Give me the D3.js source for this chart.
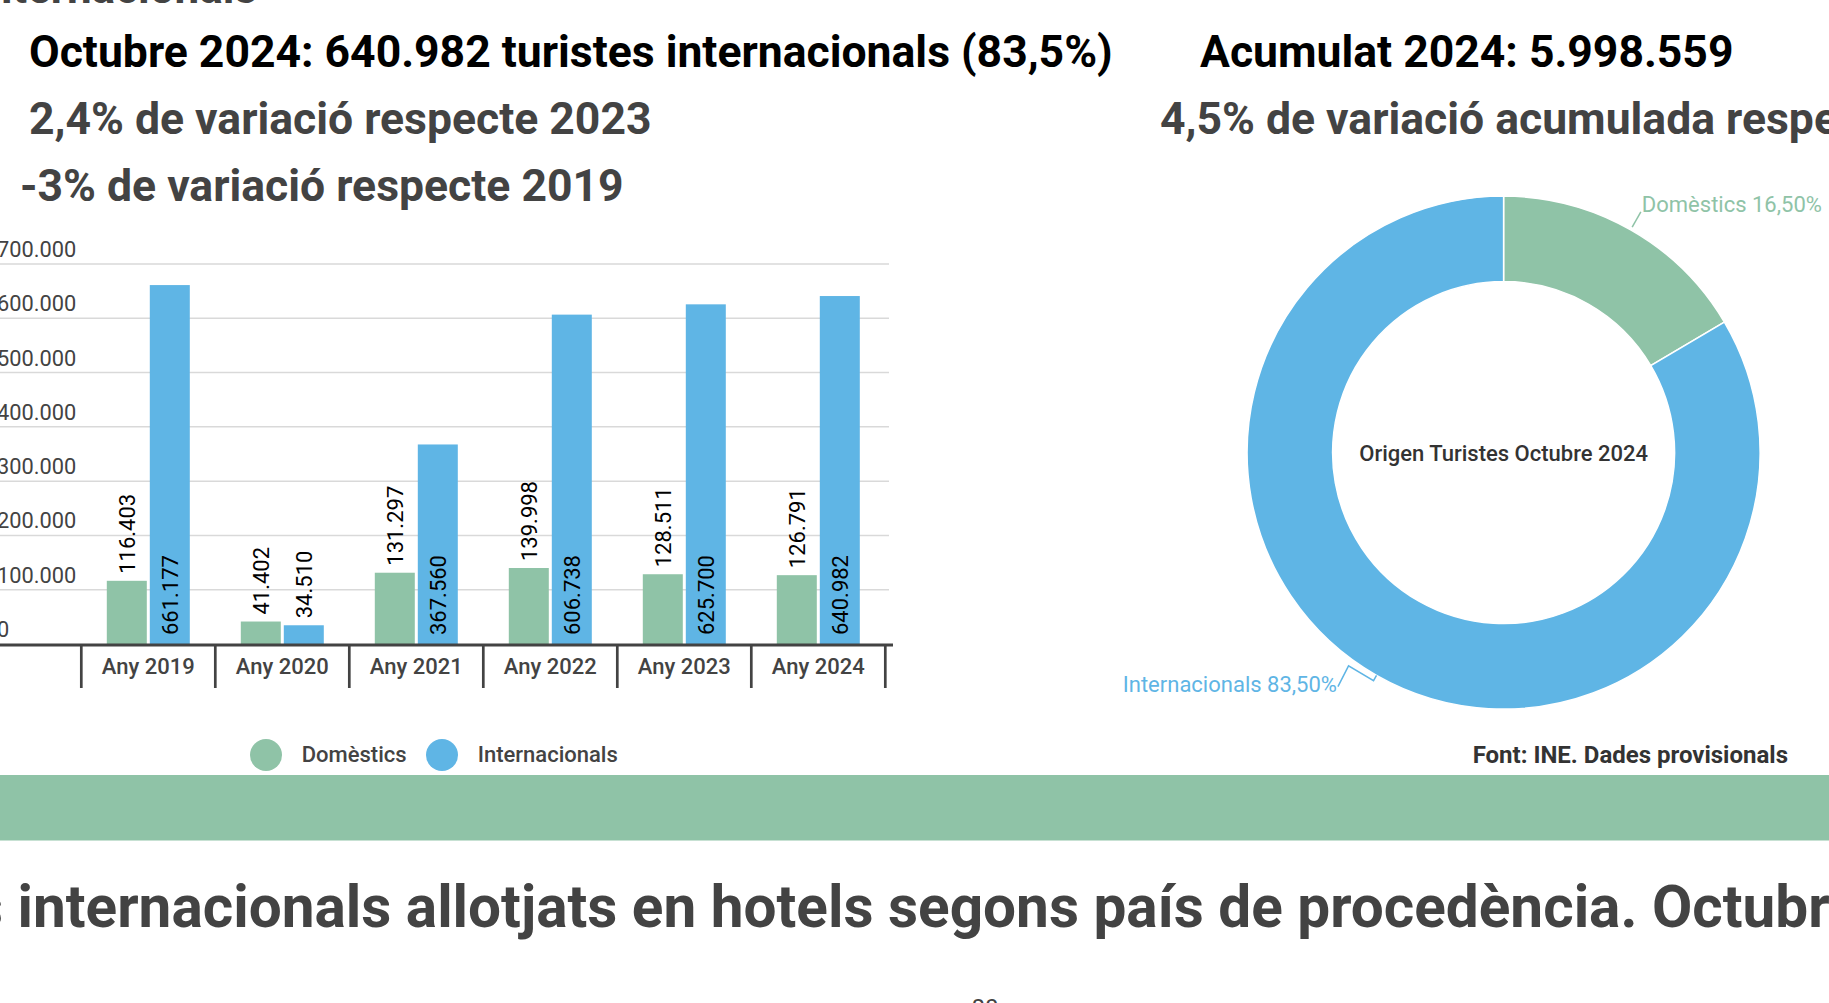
<!DOCTYPE html>
<html>
<head>
<meta charset="utf-8">
<script src="https://cdn.jsdelivr.net/npm/d3@7"></script>
<style>
  html, body { margin: 0; padding: 0; background: #fff; overflow: hidden; }
  svg { display: block; font-family: Roboto, "Noto Sans", sans-serif; }
</style>
</head>
<body>
<svg id="chart" width="1829" height="1003"></svg>
<script>
// ---- Data ----
const categories = ["Any 2019", "Any 2020", "Any 2021", "Any 2022", "Any 2023", "Any 2024"];
const domestics = [116403, 41402, 131297, 139998, 128511, 126791];
const internacionals = [661177, 34510, 367560, 606738, 625700, 640982];
const seriesNames = ["Domèstics", "Internacionals"];
const yTicks = [0, 100000, 200000, 300000, 400000, 500000, 600000, 700000];
const pieLabels = ["Domèstics", "Internacionals"];
const pieValues = [16.5, 83.5];

const titleLines = [
  "Octubre 2024: 640.982 turistes internacionals (83,5%)",
  "2,4% de variació respecte 2023",
  "-3% de variació respecte 2019"
];
const rightLines = ["Acumulat 2024: 5.998.559", "4,5% de variació acumulada respecte 2023"];
const donutTitle = "Origen Turistes Octubre 2024";
const sourceText = "Font: INE. Dades provisionals";
const bottomHeadingA = "Turistes";
const bottomHeadingB = "internacionals allotjats en hotels segons país de procedència. Octubre 2024";
const topCutText = "Turistes internacionals";

// ---- Style ----
const GREEN = "#8fc3a7", BLUE = "#5fb5e5", DARK = "#434343";
const colors = [GREEN, BLUE];

const locale = d3.formatLocale({decimal: ",", thousands: ".", grouping: [3], currency: ["", ""]});
const fmt = locale.format(",d");
const fmtPct = locale.format(",.2f");

const svg = d3.select("#chart");

// cut heading at very top
svg.append("text").attr("x", 257).attr("y", 3).attr("text-anchor", "end")
  .attr("font-size", 44).attr("font-weight", 700).attr("fill", DARK).text(topCutText);

// titles
const tl = [{x: 29, y: 67, c: "#000"}, {x: 29, y: 134, c: DARK}, {x: 20, y: 201, c: DARK}];
titleLines.forEach((t, i) => {
  svg.append("text").attr("x", tl[i].x).attr("y", tl[i].y)
    .attr("font-size", 44.5).attr("font-weight", 700).attr("fill", tl[i].c).text(t);
});
svg.append("text").attr("x", 1200).attr("y", 67).attr("font-size", 44.5).attr("font-weight", 700)
  .attr("fill", "#000").text(rightLines[0]);
svg.append("text").attr("x", 1160).attr("y", 134).attr("font-size", 44.5).attr("font-weight", 700)
  .attr("fill", DARK).text(rightLines[1]);

// ---- Bar chart ----
const baseY = 644, topY = 264;
const x = d3.scaleBand().domain(categories).range([81.3, 885.3]).paddingInner(0).paddingOuter(0);
const xs = d3.scaleBand().domain(seriesNames).range([0, x.bandwidth()]).paddingInner(3 / 43).paddingOuter(0.593);
const y = d3.scaleLinear().domain([0, 700000]).range([baseY, topY]);

// gridlines
svg.append("g").selectAll("line").data(yTicks.slice(1)).join("line")
  .attr("x1", 0).attr("x2", 889).attr("y1", d => y(d)).attr("y2", d => y(d))
  .attr("stroke", "#d9d9d9").attr("stroke-width", 1.5);

// y labels (left aligned, partly cut at left edge)
svg.append("g").selectAll("text").data(yTicks).join("text")
  .attr("x", -3).attr("y", d => y(d) - 7).attr("text-anchor", "start")
  .attr("font-size", 21.8).attr("fill", DARK).text(d => fmt(d));

// bars
const rows = categories.map((c, i) => ({cat: c, vals: [domestics[i], internacionals[i]]}));
const groups = svg.append("g").selectAll("g").data(rows).join("g")
  .attr("transform", d => `translate(${x(d.cat)},0)`);
groups.selectAll("rect").data(d => d.vals.map((v, j) => ({v, s: seriesNames[j], j})))
  .join("rect")
  .attr("x", d => xs(d.s)).attr("width", xs.bandwidth())
  .attr("y", d => y(d.v)).attr("height", d => baseY - y(d.v))
  .attr("fill", d => colors[d.j]);

// value labels (rotated)
groups.each(function(row) {
  const g = d3.select(this);
  row.vals.forEach((v, j) => {
    const cx = xs(seriesNames[j]) + xs.bandwidth() / 2;
    const t = g.append("text").attr("font-size", 22).attr("fill", "#000").text(fmt(v));
    const len = t.node().getComputedTextLength();
    const h = baseY - y(v);
    let startY;
    if (h >= len + 18) startY = baseY - 9; else startY = y(v) - 7;
    t.attr("transform", `translate(${cx + 8},${startY}) rotate(-90)`);
  });
});

// x axis baseline + ticks
svg.append("line").attr("x1", 0).attr("x2", 893).attr("y1", baseY + 1).attr("y2", baseY + 1)
  .attr("stroke", DARK).attr("stroke-width", 3);
const bounds = categories.map(c => x(c)).concat([x(categories[categories.length - 1]) + x.bandwidth()]);
svg.append("g").selectAll("line").data(bounds).join("line")
  .attr("x1", d => d).attr("x2", d => d).attr("y1", baseY).attr("y2", 688)
  .attr("stroke", DARK).attr("stroke-width", 2.7);
svg.append("g").selectAll("text").data(categories).join("text")
  .attr("x", d => x(d) + x.bandwidth() / 2).attr("y", 674).attr("text-anchor", "middle")
  .attr("font-size", 22).attr("font-weight", 500).attr("fill", DARK).text(d => d);

// legend
const legX = [266, 442];
seriesNames.forEach((s, i) => {
  svg.append("circle").attr("cx", legX[i]).attr("cy", 755).attr("r", 16).attr("fill", colors[i]);
  svg.append("text").attr("x", legX[i] + 35.7).attr("y", 761.5).attr("font-size", 22)
    .attr("font-weight", 500).attr("fill", DARK).text(s);
});

// ---- Donut ----
const pcx = 1503.6, pcy = 452.6, rOut = 256.5, rIn = 171;
const pie = d3.pie().sort(null).startAngle(0).endAngle(2 * Math.PI);
const arcs = pie(pieValues);
const arc = d3.arc().innerRadius(rIn).outerRadius(rOut);
const pg = svg.append("g").attr("transform", `translate(${pcx},${pcy})`);
pg.selectAll("path").data(arcs).join("path").attr("d", arc)
  .attr("fill", (d, i) => colors[i]).attr("stroke", "#fff").attr("stroke-width", 1.5);

pg.append("text").attr("x", 0).attr("y", 8.5).attr("text-anchor", "middle")
  .attr("font-size", 22).attr("font-weight", 500).attr("fill", "#333").text(donutTitle);

function pt(a, r) { return [r * Math.sin(a), -r * Math.cos(a)]; }
// Domèstics label
{
  const a = (arcs[0].startAngle + arcs[0].endAngle) / 2;
  const p0 = pt(a, rOut + 3), p1 = pt(a, rOut + 20.5);
  pg.append("line").attr("x1", p0[0]).attr("y1", p0[1]).attr("x2", p1[0]).attr("y2", p1[1])
    .attr("stroke", GREEN).attr("stroke-width", 1.5);
  pg.append("text").attr("x", p1[0] + 1).attr("y", p1[1]).attr("font-size", 22)
    .attr("fill", GREEN).text(pieLabels[0] + " " + fmtPct(pieValues[0]) + "%");
}
// Internacionals label
{
  const a = (arcs[1].startAngle + arcs[1].endAngle) / 2;
  const p0 = pt(a, rOut), p1 = pt(a, rOut + 6);
  const p2 = [p1[0] - 25, p1[1] - 14.7], p3 = [p2[0] - 10.6, p2[1] + 20.7];
  pg.append("polyline").attr("points", [p0, p1, p2, p3].map(p => p.join(",")).join(" "))
    .attr("fill", "none").attr("stroke", BLUE).attr("stroke-width", 1.5);
  pg.append("text").attr("x", p3[0] - 1).attr("y", p3[1] + 5).attr("text-anchor", "end")
    .attr("font-size", 22).attr("fill", BLUE).text(pieLabels[1] + " " + fmtPct(pieValues[1]) + "%");
}

// source
svg.append("text").attr("x", 1788).attr("y", 763).attr("text-anchor", "end")
  .attr("font-size", 24).attr("font-weight", 700).attr("fill", "#333").text(sourceText);

// green band
svg.append("rect").attr("x", 0).attr("y", 775).attr("width", 1829).attr("height", 65.5).attr("fill", GREEN);

// bottom heading
svg.append("text").attr("x", 3).attr("y", 927).attr("text-anchor", "end")
  .attr("font-size", 58.5).attr("font-weight", 700).attr("fill", DARK).text(bottomHeadingA);
svg.append("text").attr("x", 17.5).attr("y", 927)
  .attr("font-size", 58.5).attr("font-weight", 700).attr("fill", DARK).text(bottomHeadingB);

// page number partly visible
svg.append("text").attr("x", 985).attr("y", 1016).attr("text-anchor", "middle")
  .attr("font-size", 24).attr("fill", DARK).text("80");
</script>
</body>
</html>
